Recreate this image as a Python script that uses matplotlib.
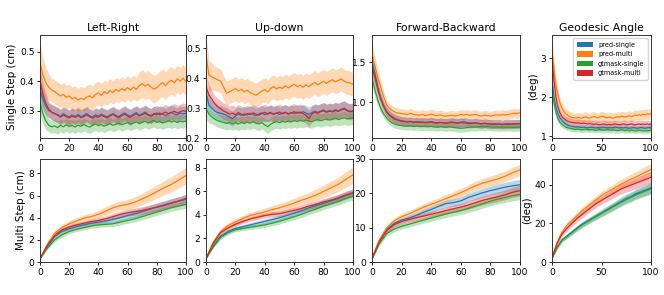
import numpy as np
import matplotlib
matplotlib.use("Agg")
import matplotlib.pyplot as plt
from matplotlib.patches import Patch

# ---- data -------------------------------------------------------------
labels = ["pred-single", "pred-multi", "gtmask-single", "gtmask-multi"]
colors = ["#1f77b4", "#ff7f0e", "#2ca02c", "#d62728"]
titles = ["Left-Right", "Up-down", "Forward-Backward", "Geodesic Angle"]

x_single = list(range(0, 101, 2))
x_multi = list(range(0, 101, 5))

# single step, left-right
lr_s_ps = [0.37, 0.34, 0.315, 0.30, 0.295, 0.29, 0.287, 0.28, 0.29, 0.283,
           0.278, 0.285, 0.28, 0.287, 0.279, 0.284, 0.29, 0.282, 0.278, 0.286,
           0.281, 0.288, 0.283, 0.279, 0.285, 0.29, 0.284, 0.28, 0.287, 0.292,
           0.285, 0.281, 0.288, 0.293, 0.284, 0.289, 0.295, 0.287, 0.283, 0.29,
           0.286, 0.292, 0.288, 0.283, 0.29, 0.295, 0.288, 0.285, 0.292, 0.289,
           0.291]
lr_s_pm = [0.463, 0.42, 0.395, 0.38, 0.37, 0.365, 0.357, 0.35, 0.355, 0.345,
           0.35, 0.34, 0.345, 0.336, 0.342, 0.338, 0.346, 0.35, 0.344, 0.355,
           0.36, 0.352, 0.364, 0.358, 0.368, 0.362, 0.372, 0.366, 0.375, 0.368,
           0.378, 0.37, 0.38, 0.372, 0.385, 0.392, 0.383, 0.39, 0.38, 0.373,
           0.378, 0.388, 0.395, 0.385, 0.397, 0.403, 0.394, 0.408, 0.40, 0.41,
           0.398]
lr_s_gs = [0.33, 0.29, 0.265, 0.25, 0.245, 0.248, 0.242, 0.25, 0.245, 0.252,
           0.246, 0.25, 0.244, 0.251, 0.247, 0.253, 0.248, 0.244, 0.25, 0.255,
           0.249, 0.253, 0.247, 0.252, 0.256, 0.25, 0.254, 0.258, 0.252, 0.256,
           0.26, 0.254, 0.258, 0.262, 0.256, 0.26, 0.264, 0.258, 0.262, 0.266,
           0.26, 0.263, 0.258, 0.262, 0.266, 0.261, 0.265, 0.26, 0.264, 0.262,
           0.265]
lr_s_gm = [0.40, 0.355, 0.325, 0.305, 0.295, 0.29, 0.285, 0.278, 0.285, 0.28,
           0.275, 0.282, 0.277, 0.283, 0.276, 0.28, 0.286, 0.279, 0.274, 0.281,
           0.277, 0.284, 0.279, 0.275, 0.282, 0.287, 0.28, 0.276, 0.283, 0.288,
           0.281, 0.277, 0.284, 0.289, 0.282, 0.286, 0.291, 0.285, 0.281, 0.288,
           0.292, 0.286, 0.29, 0.295, 0.289, 0.293, 0.298, 0.292, 0.296, 0.30,
           0.297]
lr_s_err = [[0.04, 0.035, 0.03] + [0.025] * 48,
            [0.07, 0.06, 0.05, 0.045] + [0.04] * 30 + [0.047] * 17,
            [0.04, 0.035, 0.03] + [0.022] * 48,
            [0.045, 0.04, 0.035] + [0.026] * 48]

# single step, up-down
ud_s_ps = [0.35, 0.31, 0.30, 0.29, 0.285, 0.283, 0.28, 0.276, 0.27, 0.265,
           0.274, 0.28, 0.276, 0.281, 0.277, 0.283, 0.279, 0.275, 0.281, 0.284,
           0.278, 0.282, 0.286, 0.28, 0.284, 0.279, 0.283, 0.287, 0.281, 0.285,
           0.282, 0.287, 0.283, 0.288, 0.284, 0.279, 0.285, 0.29, 0.286, 0.29,
           0.294, 0.288, 0.292, 0.289, 0.295, 0.291, 0.296, 0.30, 0.293, 0.289,
           0.291]
ud_s_pm = [0.48, 0.41, 0.405, 0.40, 0.395, 0.39, 0.37, 0.35, 0.355, 0.36,
           0.365, 0.358, 0.363, 0.355, 0.36, 0.352, 0.348, 0.343, 0.35, 0.357,
           0.362, 0.355, 0.366, 0.372, 0.364, 0.37, 0.366, 0.375, 0.368, 0.374,
           0.38, 0.372, 0.377, 0.37, 0.378, 0.372, 0.38, 0.386, 0.378, 0.384,
           0.39, 0.383, 0.39, 0.395, 0.388, 0.393, 0.398, 0.39, 0.386, 0.384,
           0.38]
ud_s_gs = [0.30, 0.28, 0.27, 0.263, 0.258, 0.255, 0.252, 0.249, 0.252, 0.248,
           0.251, 0.247, 0.252, 0.249, 0.253, 0.25, 0.254, 0.25, 0.247, 0.252,
           0.244, 0.238, 0.246, 0.252, 0.255, 0.251, 0.256, 0.253, 0.257, 0.254,
           0.258, 0.255, 0.259, 0.256, 0.26, 0.257, 0.255, 0.259, 0.262, 0.258,
           0.261, 0.264, 0.26, 0.263, 0.266, 0.262, 0.265, 0.268, 0.264, 0.266,
           0.267]
ud_s_gm = [0.37, 0.345, 0.33, 0.315, 0.305, 0.298, 0.29, 0.286, 0.28, 0.283,
           0.278, 0.285, 0.28, 0.276, 0.282, 0.279, 0.284, 0.28, 0.276, 0.282,
           0.286, 0.28, 0.284, 0.279, 0.283, 0.287, 0.281, 0.285, 0.28, 0.284,
           0.288, 0.283, 0.287, 0.282, 0.276, 0.265, 0.28, 0.286, 0.283, 0.288,
           0.291, 0.286, 0.29, 0.287, 0.292, 0.289, 0.294, 0.297, 0.291, 0.288,
           0.29]
ud_s_err = [[0.035, 0.03] + [0.025] * 49,
            [0.06, 0.05, 0.045] + [0.04] * 48,
            [0.035, 0.03] + [0.022] * 49,
            [0.04, 0.035] + [0.027] * 49]

# single step, forward-backward
fb_s_ps = [1.5, 1.35, 1.18, 1.05, 0.95, 0.88, 0.84, 0.81, 0.79, 0.775,
           0.765, 0.76, 0.755, 0.76, 0.75, 0.755, 0.748, 0.752, 0.745, 0.75,
           0.755, 0.745, 0.74, 0.748, 0.742, 0.738, 0.745, 0.752, 0.745, 0.74,
           0.748, 0.755, 0.745, 0.74, 0.735, 0.742, 0.735, 0.728, 0.735, 0.73,
           0.725, 0.72, 0.728, 0.722, 0.718, 0.725, 0.72, 0.727, 0.73, 0.725,
           0.73]
fb_s_pm = [1.6, 1.45, 1.3, 1.18, 1.06, 0.96, 0.92, 0.89, 0.87, 0.86,
           0.855, 0.85, 0.845, 0.86, 0.845, 0.84, 0.835, 0.845, 0.83, 0.84,
           0.85, 0.835, 0.83, 0.84, 0.828, 0.822, 0.83, 0.835, 0.826, 0.832,
           0.845, 0.838, 0.845, 0.835, 0.84, 0.845, 0.83, 0.826, 0.835, 0.83,
           0.825, 0.833, 0.84, 0.835, 0.842, 0.838, 0.845, 0.852, 0.86, 0.855,
           0.865]
fb_s_gs = [1.3, 1.15, 1.02, 0.92, 0.85, 0.80, 0.76, 0.735, 0.72, 0.71,
           0.705, 0.70, 0.698, 0.702, 0.695, 0.70, 0.696, 0.694, 0.698, 0.692,
           0.695, 0.69, 0.686, 0.692, 0.688, 0.684, 0.69, 0.686, 0.68, 0.676,
           0.672, 0.675, 0.68, 0.685, 0.69, 0.686, 0.69, 0.694, 0.69, 0.695,
           0.69, 0.686, 0.69, 0.685, 0.688, 0.684, 0.688, 0.685, 0.682, 0.686,
           0.684]
fb_s_gm = [1.45, 1.3, 1.15, 1.03, 0.94, 0.87, 0.83, 0.80, 0.78, 0.77,
           0.76, 0.755, 0.75, 0.755, 0.745, 0.75, 0.745, 0.748, 0.742, 0.745,
           0.75, 0.742, 0.738, 0.744, 0.74, 0.735, 0.74, 0.745, 0.738, 0.735,
           0.742, 0.738, 0.735, 0.73, 0.735, 0.74, 0.732, 0.728, 0.733, 0.728,
           0.724, 0.728, 0.722, 0.726, 0.72, 0.724, 0.728, 0.722, 0.726, 0.73,
           0.728]
fb_s_err = [[0.12, 0.1, 0.08, 0.07] + [0.055] * 47,
            [0.15, 0.12, 0.1, 0.08, 0.07] + [0.06] * 46,
            [0.1, 0.09, 0.07, 0.06] + [0.05] * 47,
            [0.12, 0.1, 0.08, 0.07] + [0.055] * 47]

# single step, geodesic angle
geo_s_ps = [2.45, 2.0, 1.75, 1.58, 1.47, 1.4, 1.35, 1.31, 1.28, 1.26,
            1.25, 1.24, 1.23, 1.24, 1.23, 1.22, 1.23, 1.22, 1.21, 1.22,
            1.23, 1.22, 1.21, 1.22, 1.21, 1.22, 1.23, 1.22, 1.21, 1.22,
            1.21, 1.22, 1.23, 1.22, 1.21, 1.22, 1.21, 1.22, 1.21, 1.20,
            1.21, 1.22, 1.21, 1.20, 1.21, 1.22, 1.21, 1.20, 1.21, 1.22,
            1.21]
geo_s_pm = [3.2, 2.7, 2.3, 2.05, 1.85, 1.72, 1.63, 1.57, 1.53, 1.50,
            1.48, 1.47, 1.46, 1.48, 1.47, 1.46, 1.48, 1.50, 1.47, 1.46,
            1.48, 1.50, 1.49, 1.47, 1.49, 1.51, 1.50, 1.48, 1.47, 1.49,
            1.47, 1.46, 1.48, 1.50, 1.49, 1.51, 1.50, 1.49, 1.51, 1.52,
            1.50, 1.52, 1.54, 1.53, 1.55, 1.54, 1.56, 1.55, 1.57, 1.56,
            1.58]
geo_s_gs = [2.2, 1.85, 1.6, 1.45, 1.36, 1.3, 1.26, 1.23, 1.21, 1.20,
            1.19, 1.18, 1.17, 1.18, 1.17, 1.16, 1.17, 1.18, 1.17, 1.16,
            1.17, 1.16, 1.15, 1.16, 1.17, 1.16, 1.15, 1.16, 1.17, 1.16,
            1.15, 1.16, 1.15, 1.14, 1.15, 1.16, 1.15, 1.14, 1.15, 1.14,
            1.15, 1.14, 1.13, 1.14, 1.15, 1.14, 1.13, 1.14, 1.13, 1.14,
            1.15]
geo_s_gm = [3.0, 2.4, 2.0, 1.75, 1.6, 1.5, 1.45, 1.41, 1.38, 1.36,
            1.35, 1.34, 1.33, 1.34, 1.33, 1.32, 1.33, 1.32, 1.31, 1.32,
            1.31, 1.30, 1.31, 1.30, 1.29, 1.30, 1.31, 1.30, 1.29, 1.30,
            1.29, 1.30, 1.31, 1.30, 1.29, 1.30, 1.31, 1.30, 1.29, 1.30,
            1.31, 1.30, 1.29, 1.30, 1.31, 1.30, 1.31, 1.30, 1.31, 1.30,
            1.31]
geo_s_err = [[0.2, 0.15, 0.12, 0.1] + [0.07] * 47,
             [0.3, 0.25, 0.2, 0.17, 0.15] + [0.13] * 46,
             [0.2, 0.15, 0.12, 0.1] + [0.07] * 47,
             [0.25, 0.2, 0.16, 0.13] + [0.1] * 47]

# multi step
lr_m_ps = [0.3, 1.4, 2.3, 2.75, 3.0, 3.2, 3.35, 3.5, 3.6, 3.7, 3.85,
           4.0, 4.2, 4.35, 4.55, 4.75, 4.95, 5.15, 5.35, 5.5, 5.65]
lr_m_pm = [0.3, 1.6, 2.6, 3.1, 3.45, 3.7, 3.95, 4.1, 4.3, 4.6, 4.9,
           5.1, 5.2, 5.4, 5.7, 6.0, 6.35, 6.7, 7.0, 7.4, 7.8]
lr_m_gs = [0.3, 1.25, 2.0, 2.45, 2.75, 2.95, 3.1, 3.25, 3.35, 3.4, 3.45,
           3.6, 3.75, 3.9, 4.1, 4.3, 4.5, 4.7, 4.9, 5.05, 5.2]
lr_m_gm = [0.3, 1.5, 2.4, 2.9, 3.15, 3.35, 3.5, 3.65, 3.75, 3.9, 4.1,
           4.3, 4.45, 4.55, 4.65, 4.8, 4.95, 5.1, 5.3, 5.5, 5.75]
lr_m_err = [[0.05, 0.12, 0.18, 0.2, 0.2, 0.2, 0.2, 0.22, 0.24, 0.26, 0.28,
             0.3, 0.32, 0.33, 0.34, 0.35, 0.36, 0.37, 0.38, 0.39, 0.4],
            [0.05, 0.15, 0.25, 0.3, 0.3, 0.3, 0.3, 0.32, 0.35, 0.38, 0.4,
             0.42, 0.45, 0.48, 0.52, 0.56, 0.6, 0.64, 0.68, 0.72, 0.75],
            [0.05, 0.12, 0.18, 0.2, 0.2, 0.2, 0.2, 0.21, 0.22, 0.23, 0.24,
             0.25, 0.26, 0.27, 0.28, 0.29, 0.3, 0.31, 0.32, 0.33, 0.34],
            [0.05, 0.12, 0.18, 0.2, 0.2, 0.2, 0.2, 0.22, 0.24, 0.26, 0.28,
             0.3, 0.32, 0.33, 0.34, 0.35, 0.36, 0.37, 0.38, 0.39, 0.4]]

ud_m_ps = [0.3, 1.4, 2.2, 2.6, 2.85, 3.0, 3.15, 3.3, 3.45, 3.6, 3.75,
           3.95, 4.15, 4.35, 4.6, 4.8, 5.0, 5.2, 5.4, 5.65, 5.85]
ud_m_pm = [0.3, 1.7, 2.6, 3.1, 3.4, 3.7, 3.95, 4.1, 4.25, 4.45, 4.6,
           4.8, 5.0, 5.25, 5.45, 5.7, 6.0, 6.3, 6.6, 7.0, 7.4]
ud_m_gs = [0.3, 1.3, 2.1, 2.5, 2.75, 2.85, 2.95, 3.05, 3.15, 3.3, 3.45,
           3.65, 3.85, 4.05, 4.3, 4.5, 4.75, 4.95, 5.15, 5.4, 5.6]
ud_m_gm = [0.3, 1.6, 2.5, 2.9, 3.2, 3.45, 3.65, 3.8, 3.95, 4.05, 4.1,
           4.25, 4.4, 4.55, 4.75, 4.9, 5.1, 5.25, 5.45, 5.7, 5.9]
ud_m_err = [[0.05, 0.12, 0.16, 0.18, 0.18, 0.18, 0.19, 0.2, 0.21, 0.22, 0.23,
             0.24, 0.25, 0.26, 0.27, 0.28, 0.29, 0.3, 0.31, 0.32, 0.33],
            [0.05, 0.15, 0.22, 0.25, 0.26, 0.27, 0.28, 0.3, 0.32, 0.34, 0.36,
             0.38, 0.4, 0.43, 0.46, 0.5, 0.54, 0.58, 0.62, 0.66, 0.7],
            [0.05, 0.12, 0.16, 0.18, 0.18, 0.18, 0.19, 0.2, 0.21, 0.22, 0.23,
             0.24, 0.25, 0.26, 0.27, 0.28, 0.29, 0.3, 0.31, 0.32, 0.33],
            [0.05, 0.12, 0.16, 0.18, 0.18, 0.18, 0.19, 0.2, 0.21, 0.22, 0.23,
             0.24, 0.25, 0.26, 0.27, 0.28, 0.29, 0.3, 0.31, 0.32, 0.33]]

fb_m_ps = [1.0, 6.2, 9.5, 11.2, 12.2, 12.8, 13.6, 14.5, 15.3, 16.2, 17.0,
           17.3, 17.8, 18.8, 19.5, 20.2, 20.8, 21.3, 21.8, 22.2, 22.5]
fb_m_pm = [1.0, 6.5, 10.0, 12.0, 13.2, 14.0, 15.0, 16.0, 16.8, 17.6, 18.5,
           19.3, 20.2, 21.2, 22.2, 23.0, 23.6, 24.2, 25.0, 26.0, 26.8]
fb_m_gs = [1.0, 5.4, 8.3, 9.6, 10.4, 11.0, 11.6, 12.2, 12.8, 13.4, 14.0,
           14.5, 15.0, 15.6, 16.3, 17.0, 17.7, 18.3, 18.8, 19.3, 19.7]
fb_m_gm = [1.0, 6.0, 9.2, 10.9, 11.8, 12.4, 12.9, 13.4, 13.9, 14.4, 15.0,
           15.5, 16.0, 16.6, 17.3, 18.0, 18.5, 19.0, 19.6, 20.3, 20.8]
fb_m_err = [[0.2, 0.5, 0.7, 0.8, 0.8, 0.8, 0.85, 0.9, 0.95, 1.0, 1.05,
             1.1, 1.15, 1.2, 1.25, 1.3, 1.35, 1.4, 1.45, 1.5, 1.55],
            [0.2, 0.6, 0.8, 0.9, 0.9, 0.9, 0.95, 1.0, 1.05, 1.1, 1.15,
             1.2, 1.25, 1.3, 1.35, 1.4, 1.45, 1.5, 1.55, 1.6, 1.65],
            [0.2, 0.5, 0.7, 0.8, 0.8, 0.8, 0.85, 0.9, 0.95, 1.0, 1.05,
             1.1, 1.15, 1.2, 1.25, 1.3, 1.35, 1.4, 1.45, 1.5, 1.55],
            [0.2, 0.5, 0.7, 0.8, 0.8, 0.8, 0.85, 0.9, 0.95, 1.0, 1.05,
             1.1, 1.15, 1.2, 1.25, 1.3, 1.35, 1.4, 1.45, 1.5, 1.55]]

geo_m_ps = [2.0, 7.5, 11.5, 13.5, 15.5, 17.5, 19.5, 21.0, 22.5, 24.0, 25.5,
            27.0, 28.5, 30.0, 31.5, 33.0, 34.0, 35.5, 36.5, 37.5, 38.5]
geo_m_pm = [2.0, 10.0, 15.5, 19.0, 21.5, 24.0, 26.5, 28.5, 30.5, 32.5, 34.5,
            36.0, 37.5, 39.0, 40.5, 41.8, 43.0, 44.2, 45.5, 46.8, 48.0]
geo_m_gs = [2.0, 7.3, 11.2, 13.2, 15.2, 17.2, 19.1, 20.7, 22.2, 23.7, 25.2,
            26.7, 28.1, 29.6, 31.0, 32.4, 33.6, 34.9, 36.0, 37.0, 38.0]
geo_m_gm = [2.0, 9.5, 14.5, 17.5, 20.0, 22.5, 24.5, 26.5, 28.5, 30.5, 32.0,
            33.5, 35.0, 36.5, 38.0, 39.0, 40.0, 41.0, 42.0, 43.0, 44.0]
geo_m_err = [[0.3, 0.8, 1.0, 1.1, 1.2, 1.3, 1.4, 1.5, 1.6, 1.7, 1.8,
              1.9, 2.0, 2.1, 2.2, 2.3, 2.4, 2.5, 2.6, 2.7, 2.8],
             [0.3, 0.9, 1.2, 1.4, 1.5, 1.6, 1.7, 1.8, 1.9, 2.0, 2.1,
              2.2, 2.3, 2.4, 2.5, 2.6, 2.7, 2.8, 2.9, 3.0, 3.1],
             [0.3, 0.8, 1.0, 1.1, 1.2, 1.3, 1.4, 1.5, 1.6, 1.7, 1.8,
              1.9, 2.0, 2.1, 2.2, 2.3, 2.4, 2.5, 2.6, 2.7, 2.8],
             [0.3, 0.9, 1.2, 1.4, 1.5, 1.6, 1.7, 1.8, 1.9, 2.0, 2.1,
              2.2, 2.3, 2.4, 2.5, 2.6, 2.7, 2.8, 2.9, 3.0, 3.1]]

single = [([lr_s_ps, lr_s_pm, lr_s_gs, lr_s_gm], lr_s_err),
          ([ud_s_ps, ud_s_pm, ud_s_gs, ud_s_gm], ud_s_err),
          ([fb_s_ps, fb_s_pm, fb_s_gs, fb_s_gm], fb_s_err),
          ([geo_s_ps, geo_s_pm, geo_s_gs, geo_s_gm], geo_s_err)]
multi = [([lr_m_ps, lr_m_pm, lr_m_gs, lr_m_gm], lr_m_err),
         ([ud_m_ps, ud_m_pm, ud_m_gs, ud_m_gm], ud_m_err),
         ([fb_m_ps, fb_m_pm, fb_m_gs, fb_m_gm], fb_m_err),
         ([geo_m_ps, geo_m_pm, geo_m_gs, geo_m_gm], geo_m_err)]

single_ylim = [(0.207, 0.557), (0.2, 0.545), (0.55, 1.84), (0.95, 3.6)]
multi_ylim = [(0, 9.3), (0, 8.75), (0, 30), (0, 53.5)]

# ---- figure -----------------------------------------------------------
fig = plt.figure(figsize=(6.64, 2.95), dpi=100)
lefts = [40, 206, 372, 552]
widths = [146, 147, 148, 99]
W, H = 664, 295


def draw(ax, xs, series, errs):
    for ys, err, c in zip(series, errs, colors):
        ys = np.array(ys)
        err = np.array(err)
        ax.fill_between(xs, ys - err, ys + err, color=c, alpha=0.3, lw=0)
        ax.plot(xs, ys, color=c, lw=0.9)


for i in range(4):
    ax_t = fig.add_axes([lefts[i] / W, (H - 138) / H, widths[i] / W, 103 / H])
    ax_b = fig.add_axes([lefts[i] / W, (H - 262) / H, widths[i] / W, 103 / H])

    draw(ax_t, x_single, *single[i])
    draw(ax_b, x_multi, *multi[i])

    ax_t.set_ylim(*single_ylim[i])
    ax_b.set_ylim(*multi_ylim[i])
    for ax in (ax_t, ax_b):
        ax.set_xlim(0, 100)
        ax.tick_params(labelsize=6.6, length=2.5, width=0.6, pad=1.5)
        for sp in ax.spines.values():
            sp.set_linewidth(0.7)
            sp.set_color("#333333")
        if i == 3:
            ax.set_xticks([0, 50, 100])
        else:
            ax.set_xticks([0, 20, 40, 60, 80, 100])
    ax_t.set_title(titles[i], fontsize=7.8, pad=3)

    if i == 0:
        ax_t.set_ylabel("Single Step (cm)", fontsize=7.5, labelpad=2)
        ax_b.set_ylabel("Multi Step (cm)", fontsize=7.5, labelpad=2)
    if i == 3:
        ax_t.set_ylabel("(deg)", fontsize=7.5, labelpad=2)
        ax_b.set_ylabel("(deg)", fontsize=7.5, labelpad=2)
        handles = [Patch(facecolor=c, label=l) for c, l in zip(colors, labels)]
        ax_t.legend(handles=handles, loc="upper right", fontsize=4.7,
                    handlelength=2.5, handleheight=0.9, labelspacing=0.55,
                    borderpad=0.5, handletextpad=0.8, framealpha=0.8)
    if i == 2:
        ax_t.set_yticks([1.0, 1.5])
    if i == 0:
        ax_t.set_yticks([0.3, 0.4, 0.5])
    if i == 1:
        ax_t.set_yticks([0.2, 0.3, 0.4, 0.5])

fig.savefig("out.png", dpi=100)
